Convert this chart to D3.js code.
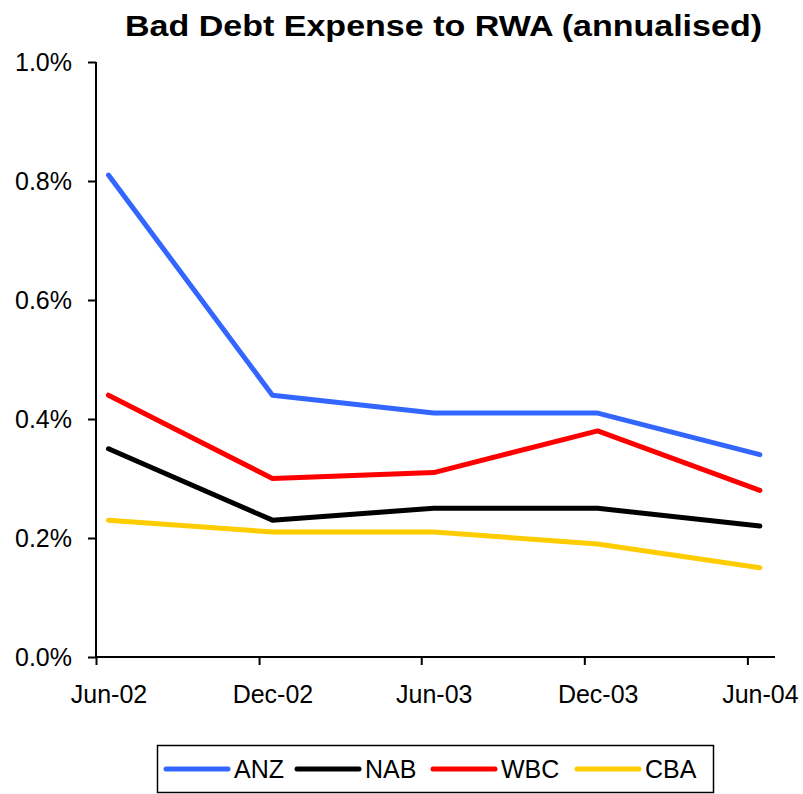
<!DOCTYPE html>
<html>
<head>
<meta charset="utf-8">
<script src="https://cdn.jsdelivr.net/npm/d3@7"></script>
<style>
  body { margin: 0; background: #fff; }
  text { font-family: "Liberation Sans", Arial, sans-serif; }
</style>
</head>
<body>
<div id="chart"></div>
<script>
// data
const periods = ["2002-06-15", "2002-12-16", "2003-06-15", "2003-12-16", "2004-06-15"];
const periodLabels = ["Jun-02", "Dec-02", "Jun-03", "Dec-03", "Jun-04"];
const tickDates = ["2002-06-01", "2002-12-01", "2003-06-01", "2003-12-01", "2004-06-01"];
const anz = [0.81, 0.44, 0.41, 0.41, 0.34];
const nab = [0.35, 0.23, 0.25, 0.25, 0.22];
const wbc = [0.44, 0.30, 0.31, 0.38, 0.28];
const cba = [0.23, 0.21, 0.21, 0.19, 0.15];
const yTicks = [0, 0.2, 0.4, 0.6, 0.8, 1.0];

const series = [
  { name: "ANZ", values: anz, color: "#3366ff" },
  { name: "NAB", values: nab, color: "#000000" },
  { name: "WBC", values: wbc, color: "#ff0000" },
  { name: "CBA", values: cba, color: "#ffcc00" }
];

const width = 803, height = 794;
const margin = { left: 96, right: 28, top: 62, bottom: 137 };
const parse = d3.utcParse("%Y-%m-%d");
const fontSize = 25;

const svg = d3.select("#chart").append("svg")
  .attr("width", width)
  .attr("height", height);

const xScale = d3.scaleUtc()
  .domain([parse("2002-06-01"), parse("2004-07-02")])
  .range([margin.left, width - margin.right]);
const yScale = d3.scaleLinear()
  .domain([0, 1.0])
  .range([height - margin.bottom, margin.top]);

// title
svg.append("text")
  .attr("x", 443.5)
  .attr("y", 36)
  .attr("text-anchor", "middle")
  .attr("font-size", 30)
  .attr("font-weight", "bold")
  .attr("textLength", 637)
  .attr("lengthAdjust", "spacingAndGlyphs")
  .text("Bad Debt Expense to RWA (annualised)");

function styleText(sel) {
  sel.selectAll(".tick text")
    .attr("font-size", fontSize)
    .attr("font-family", "Liberation Sans, Arial, sans-serif")
    .attr("fill", "#000");
}

// y axis
const yAxis = svg.append("g")
  .attr("transform", `translate(${margin.left},0)`)
  .call(d3.axisLeft(yScale)
    .tickValues(yTicks)
    .tickSize(8)
    .tickPadding(16)
    .tickFormat(d => d.toFixed(1) + "%"));
yAxis.select(".domain").attr("stroke", "#000").attr("stroke-width", 2)
  .attr("d", `M0,${yScale(1)}H0V${yScale(0)}`);
yAxis.selectAll(".tick line").attr("stroke-width", 2);
styleText(yAxis);

// x axis: tick marks at month starts
const xAxis = svg.append("g")
  .attr("transform", `translate(0,${yScale(0)})`)
  .call(d3.axisBottom(xScale)
    .tickValues(tickDates.map(parse))
    .tickSize(8)
    .tickFormat(""));
xAxis.select(".domain").attr("stroke", "#000").attr("stroke-width", 2)
  .attr("d", `M${margin.left},0H${width - margin.right}`);
xAxis.selectAll(".tick line").attr("stroke-width", 2);

// x labels centred on the data points
const xLabels = svg.append("g")
  .attr("transform", `translate(0,${yScale(0)})`)
  .call(d3.axisBottom(xScale)
    .tickValues(periods.map(parse))
    .tickSize(0)
    .tickPadding(28)
    .tickFormat((d, i) => periodLabels[i]));
xLabels.select(".domain").remove();
styleText(xLabels);

// lines
const line = d3.line()
  .x((d, i) => xScale(parse(periods[i])))
  .y(d => yScale(d));

svg.append("g").selectAll("path")
  .data(series)
  .join("path")
  .attr("fill", "none")
  .attr("stroke", d => d.color)
  .attr("stroke-width", 5)
  .attr("stroke-linecap", "round")
  .attr("stroke-linejoin", "round")
  .attr("d", d => line(d.values));

// legend
const legend = svg.append("g");
legend.append("rect")
  .attr("x", 157.5)
  .attr("y", 745.5)
  .attr("width", 556)
  .attr("height", 47)
  .attr("fill", "#fff")
  .attr("stroke", "#000")
  .attr("stroke-width", 1.5);

const legendX = [166, 297, 433, 577];
const items = legend.selectAll("g.item")
  .data(series)
  .join("g")
  .attr("class", "item")
  .attr("transform", (d, i) => `translate(${legendX[i]},769)`);
items.append("line")
  .attr("x1", 0).attr("x2", 62)
  .attr("stroke", d => d.color)
  .attr("stroke-width", 5)
  .attr("stroke-linecap", "round");
items.append("text")
  .attr("x", 68)
  .attr("y", 9)
  .attr("font-size", fontSize)
  .text(d => d.name);
</script>
</body>
</html>
